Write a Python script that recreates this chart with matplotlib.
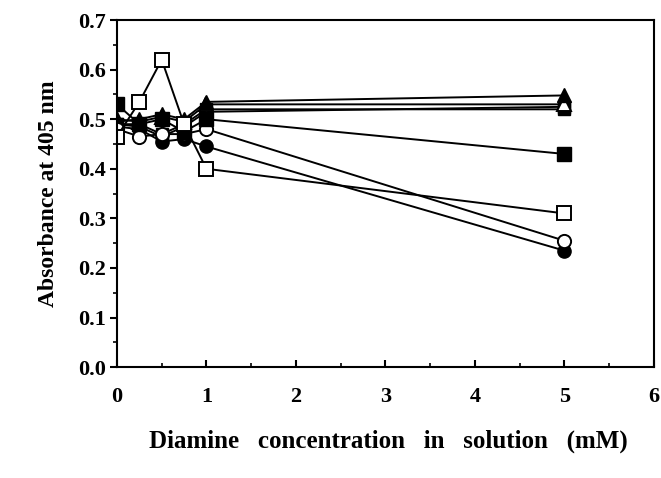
import matplotlib.pyplot as plt
from matplotlib.ticker import MultipleLocator

plt.rcParams['font.family'] = ['Liberation Serif', 'DejaVu Serif']
plt.rcParams['font.weight'] = 'bold'

conc = [0, 0.25, 0.5, 0.75, 1, 5]

open_square = [0.465, 0.535, 0.62, 0.49, 0.40, 0.31]
filled_square = [0.53, 0.49, 0.50, 0.475, 0.50, 0.43]
open_circle = [0.48, 0.465, 0.47, 0.47, 0.48, 0.255]
filled_circle = [0.485, 0.48, 0.455, 0.46, 0.445, 0.235]
filled_triangle = [0.495, 0.50, 0.51, 0.50, 0.535, 0.548]
open_triangle = [0.50, 0.495, 0.505, 0.495, 0.53, 0.53]
hatched_square = [0.49, 0.49, 0.47, 0.49, 0.52, 0.52]
hatched_square_2 = [0.49, 0.485, 0.465, 0.485, 0.515, 0.525]

fig = plt.figure(figsize=(6.61, 4.78), dpi=100)
ax = fig.add_axes([0.177, 0.232, 0.812, 0.726])

ms = 9.5
line = dict(color='black', lw=1.4)

for ys in (hatched_square, hatched_square_2):
    ax.plot(conc, ys, marker='s', ms=ms - 1, mfc='black', mec='black', **line)
    ax.plot(conc, ys, ls='none', marker='+', ms=5, mew=1.0, color='white')
ax.plot(conc, open_triangle, marker='^', ms=ms + 1, mfc='white', mec='black', mew=1.4, **line)
ax.plot(conc, filled_triangle, marker='^', ms=ms + 1, mfc='black', mec='black', **line)
ax.plot(conc, filled_circle, marker='o', ms=ms, mfc='black', mec='black', **line)
ax.plot(conc, open_circle, marker='o', ms=ms, mfc='white', mec='black', mew=1.4, **line)
ax.plot(conc, filled_square, marker='s', ms=ms, mfc='black', mec='black', **line)
ax.plot(conc, open_square, marker='s', ms=ms, mfc='white', mec='black', mew=1.4, **line)

ax.set_xlim(0, 6)
ax.set_ylim(0, 0.7)
ax.xaxis.set_major_locator(MultipleLocator(1))
ax.xaxis.set_minor_locator(MultipleLocator(0.5))
ax.yaxis.set_major_locator(MultipleLocator(0.1))
ax.yaxis.set_minor_locator(MultipleLocator(0.05))
ax.yaxis.set_major_formatter(plt.FormatStrFormatter('%.1f'))

for s in ax.spines.values():
    s.set_linewidth(1.5)
ax.tick_params(axis='y', direction='out', length=5, width=1.5, labelsize=16, pad=3)
ax.tick_params(axis='y', which='minor', direction='out', length=3, width=1.2)
ax.tick_params(axis='x', direction='in', length=5, width=1.5, labelsize=16, pad=14)
ax.tick_params(axis='x', which='minor', direction='in', length=3, width=1.2)

ax.set_xlabel('Diamine   concentration   in   solution   (mM)', fontsize=18,
              fontweight='bold')
ax.xaxis.set_label_coords(0.505, -0.18)
ax.set_ylabel('Absorbance at 405 nm', fontsize=17, fontweight='bold', labelpad=14)

fig.savefig('out.png', dpi=100)
